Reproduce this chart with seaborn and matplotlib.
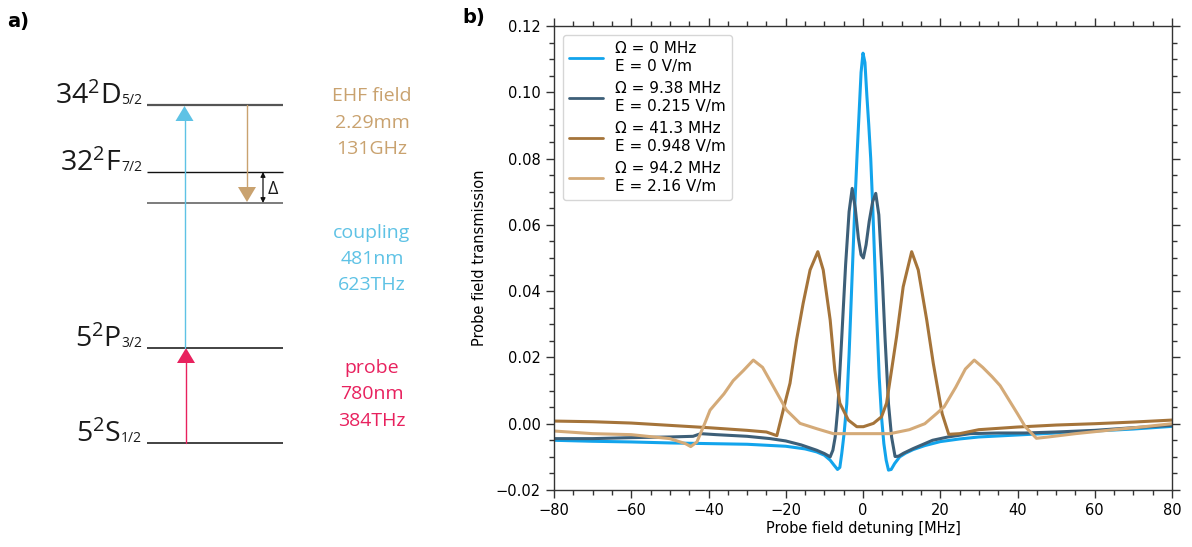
import numpy as np
import pandas as pd
import matplotlib
matplotlib.use("Agg")
import matplotlib.pyplot as plt
from matplotlib.ticker import MultipleLocator
from matplotlib.patches import Polygon
import seaborn as sns

# ---------------- data ----------------
labels = ["Ω = 0 MHz\nE = 0 V/m",
          "Ω = 9.38 MHz\nE = 0.215 V/m",
          "Ω = 41.3 MHz\nE = 0.948 V/m",
          "Ω = 94.2 MHz\nE = 2.16 V/m"]
colors = ["#12a4ec", "#3d5f78", "#a5743a", "#d4aa78"]

x_0 = [-80, -70, -60, -50, -40, -30, -20, -15, -12, -10, -8.5, -7.5, -6.6, -6.0, -5.5, -4.9, -4.2,
       -3.6, -3.1, -2.5, -2.0, -1.5, -1.0, -0.5, 0.0, 0.5, 1.0, 1.5, 2.0, 2.5, 3.0, 3.5, 4.2, 4.8,
       5.4, 6.0, 6.6, 7.3, 8.2, 9.5, 11, 13, 16, 20, 25, 30, 40, 50, 60, 70, 80]
y_0 = [-0.0050, -0.0053, -0.0055, -0.0058, -0.0060, -0.0062, -0.0068, -0.0076, -0.0085, -0.0095,
       -0.0110, -0.0125, -0.0138, -0.0132, -0.0090, -0.0030, 0.0060, 0.0210, 0.0360, 0.0540, 0.0690,
       0.0820, 0.0940, 0.1060, 0.1118, 0.1090, 0.0990, 0.0900, 0.0800, 0.0660, 0.0500, 0.0340,
       0.0140, 0.0020, -0.0060, -0.0110, -0.0140, -0.0138, -0.0120, -0.0100, -0.0089, -0.0078,
       -0.0066, -0.0054, -0.0046, -0.0040, -0.0034, -0.0028, -0.0022, -0.0016, -0.0008]

x_1 = [-80, -70, -60, -50, -44, -42, -38, -30, -24, -20, -16, -12, -10, -8.5, -7.8, -7.2, -6.5,
       -5.5, -4.5, -3.6, -2.8, -2.0, -1.2, -0.5, 0.1, 0.8, 1.6, 2.5, 3.3, 4.1, 5.0, 5.7, 6.6, 7.4,
       8.3, 9.2, 10.5, 13, 15, 18, 22, 27.7, 35, 42, 50, 60, 70, 80]
y_1 = [-0.0045, -0.0045, -0.0042, -0.0040, -0.0038, -0.0030, -0.0033, -0.0038, -0.0045, -0.0052,
       -0.0064, -0.0080, -0.0090, -0.0100, -0.0080, -0.0040, 0.0050, 0.0260, 0.0480, 0.0640,
       0.0710, 0.0650, 0.0560, 0.0510, 0.0500, 0.0540, 0.0610, 0.0670, 0.0695, 0.0630, 0.0440,
       0.0260, 0.0060, -0.0040, -0.0099, -0.0098, -0.0089, -0.0075, -0.0065, -0.0050, -0.0040,
       -0.0030, -0.0028, -0.0028, -0.0025, -0.0020, -0.0012, -0.0005]

x_2 = [-80, -70, -60, -50, -40, -30, -25, -22.3, -19.8, -18.9, -17.2, -15.5, -13.7, -11.7, -10.3,
       -8.5, -7.3, -6.0, -3.8, -1.6, 0.1, 2.7, 4.8, 6.1, 7.4, 8.7, 10.4, 12.6, 14.3, 16.5, 18.2,
       19.1, 20.5, 22.2, 25, 30, 40, 50, 60, 70, 80]
y_2 = [0.0008, 0.0006, 0.0002, -0.0005, -0.0012, -0.0020, -0.0025, -0.0036, 0.0081, 0.0122,
       0.0253, 0.0363, 0.0464, 0.0519, 0.0464, 0.0313, 0.0162, 0.0062, 0.0011, -0.0009, -0.0009,
       0.0001, 0.0021, 0.0062, 0.0162, 0.0263, 0.0413, 0.0519, 0.0464, 0.0313, 0.0182, 0.0122,
       0.0030, -0.0032, -0.0030, -0.0018, -0.0010, -0.0004, 0.0000, 0.0005, 0.0011]

x_3 = [-80, -70, -60, -50, -46, -44.6, -43, -41, -39.6, -36, -33.6, -31, -28.4, -26, -23.2, -19.8,
       -16.3, -12, -7.7, 0, 7, 12, 16, 19, 21, 24, 26.5, 28.8, 31, 33.4, 35.5, 37.3, 40, 42, 44.9,
       48, 55, 65, 72, 80]
y_3 = [-0.0022, -0.0030, -0.0033, -0.0045, -0.0060, -0.0069, -0.0055, 0.0000, 0.0041, 0.0090,
       0.0130, 0.0160, 0.0192, 0.0170, 0.0112, 0.0041, 0.0001, -0.0015, -0.0030, -0.0030, -0.0030,
       -0.0018, 0.0000, 0.0030, 0.0051, 0.0110, 0.0165, 0.0192, 0.0170, 0.0142, 0.0115, 0.0081,
       0.0030, -0.0009, -0.0044, -0.0040, -0.0030, -0.0018, -0.0010, 0.0000]

xs = [x_0, x_1, x_2, x_3]
ys = [y_0, y_1, y_2, y_3]

x_ticks = [-80, -60, -40, -20, 0, 20, 40, 60, 80]
y_ticks = [-0.02, 0.00, 0.02, 0.04, 0.06, 0.08, 0.10, 0.12]

# energy level diagram content
level_main = [r"$\mathregular{34^{2}D}$", r"$\mathregular{32^{2}F}$", r"$\mathregular{5^{2}P}$",
              r"$\mathregular{5^{2}S}$"]
level_sub = ["5/2", "7/2", "3/2", "1/2"]
field_texts = [["EHF field", "2.29mm", "131GHz"],
               ["coupling", "481nm", "623THz"],
               ["probe", "780nm", "384THz"]]
field_colors = ["#c9a26f", "#5ec2e5", "#e8215e"]

# ---------------- figure ----------------
sns.set_style("ticks", {"text.color": "black", "axes.labelcolor": "black",
                        "xtick.color": "black", "ytick.color": "black"})
plt.rcParams["font.family"] = ["DejaVu Sans"]

W, H = 1192, 547
fig = plt.figure(figsize=(W / 100, H / 100), dpi=100)

# --- left panel: level diagram in pixel coordinates ---
ax0 = fig.add_axes([0, 0, 1, 1])
ax0.set_xlim(0, W)
ax0.set_ylim(H, 0)
ax0.axis("off")

lev_y = [105, 172, 203, 348, 443]
lev_col = ["#555555", "#111111", "#666666", "#222222", "#222222"]
lev_lw = [1.6, 1.0, 1.2, 1.2, 1.2]
for yy, cc, lw in zip(lev_y, lev_col, lev_lw):
    ax0.plot([147, 283], [yy, yy], color=cc, lw=lw, solid_capstyle="butt")

lab_y = [104, 171, 347, 442]
for m, s, yy in zip(level_main, level_sub, lab_y):
    ax0.text(121, yy, m, fontsize=20.5, family="Open Sans", color="#1a1a1a",
             ha="right", va="baseline")
    ax0.text(121, yy, s, fontsize=10, family="Open Sans", color="#1a1a1a",
             ha="left", va="baseline")

# arrows
def up_arrow(x, y0, y1, col, hw=9, hl=15, lw=1.0):
    ax0.plot([x, x], [y0, y1 + hl - 1], color=col, lw=lw)
    ax0.add_patch(Polygon([[x - hw, y1 + hl], [x + hw, y1 + hl], [x, y1]], closed=True,
                          color=col, lw=0))

def down_arrow(x, y0, y1, col, hw=9, hl=15, lw=1.0):
    ax0.plot([x, x], [y0, y1 - hl + 1], color=col, lw=lw)
    ax0.add_patch(Polygon([[x - hw, y1 - hl], [x + hw, y1 - hl], [x, y1]], closed=True,
                          color=col, lw=0))

up_arrow(184.5, 348, 106, field_colors[1])
up_arrow(186, 443, 348, field_colors[2])
down_arrow(247, 105, 202, field_colors[0])
ax0.annotate("", xy=(263, 172), xytext=(263, 203),
             arrowprops=dict(arrowstyle="<|-|>", color="#111111", lw=0.9,
                             mutation_scale=7, shrinkA=0, shrinkB=0))
ax0.text(268, 189, "Δ", fontsize=13, family="Open Sans", color="#1a1a1a",
         ha="left", va="center")

field_y = [[96, 123, 149], [233, 259, 285], [368, 394, 421]]
for txts, col, yy in zip(field_texts, field_colors, field_y):
    for t, y in zip(txts, yy):
        ax0.text(372, y, t, fontsize=14, family="Open Sans", color=col,
                 ha="center", va="center")

ax0.text(7, 21, "a)", fontsize=14, fontweight="bold", ha="left", va="center")
ax0.text(462, 18, "b)", fontsize=14, fontweight="bold", ha="left", va="center")

# --- right panel: spectra ---
left, right, top, bottom = 554, 1172, 26, 490
ax = fig.add_axes([left / W, 1 - bottom / H, (right - left) / W, (bottom - top) / H])

df = pd.concat([pd.DataFrame({"det": x, "T": y, "series": lab})
                for x, y, lab in zip(xs, ys, labels)], ignore_index=True)
sns.lineplot(data=df, x="det", y="T", hue="series", hue_order=labels,
             palette=dict(zip(labels, colors)), estimator=None, sort=False,
             lw=2.2, ax=ax)

ax.set_xlim(-80, 80)
ax.set_ylim(-0.02, 0.12)
ax.set_xticks(x_ticks)
ax.set_yticks(y_ticks)
ax.xaxis.set_minor_locator(MultipleLocator(5))
ax.yaxis.set_minor_locator(MultipleLocator(0.005))
ax.tick_params(which="both", direction="out", top=True, right=True,
               labelsize=10.5, color="#333333", labelcolor="black", width=1.0)
ax.tick_params(which="major", length=6)
ax.tick_params(which="minor", length=3.5)
for sp in ax.spines.values():
    sp.set_visible(True)
    sp.set_color("#333333")
    sp.set_linewidth(1.0)
ax.set_xlabel("Probe field detuning [MHz]", fontsize=10.5, labelpad=2, color="black")
ax.set_ylabel("Probe field transmission", fontsize=10.5, labelpad=6, color="black")

leg = ax.legend(loc="upper left", fontsize=11, frameon=True, handlelength=2.2,
                borderaxespad=0.6, labelspacing=0.5)
for t in leg.get_texts():
    t.set_color("black")
for h in leg.get_lines():
    h.set_linewidth(2.0)

fig.savefig("out.png", dpi=100)
